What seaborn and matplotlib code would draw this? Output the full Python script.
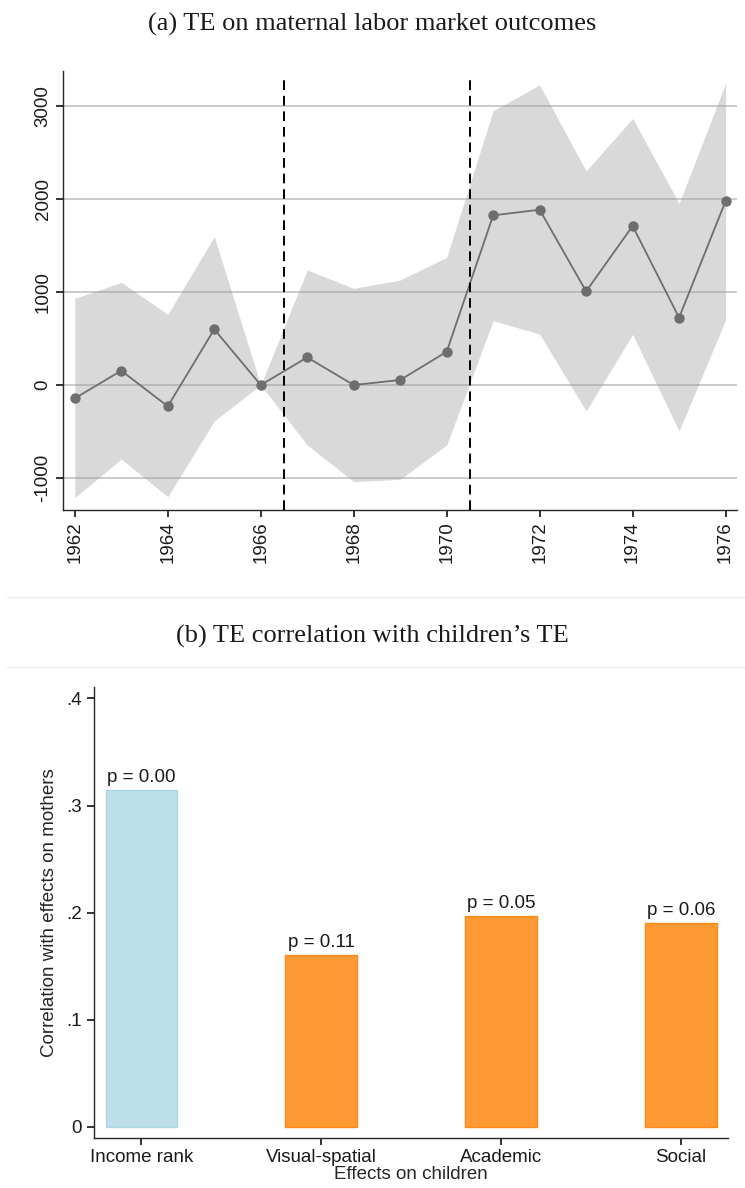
import numpy as np
import pandas as pd
import matplotlib
matplotlib.use("Agg")
import matplotlib.pyplot as plt
from matplotlib.lines import Line2D
import seaborn as sns

# ---- Panel (a): treatment effects by birth cohort ----
years = [1962, 1963, 1964, 1965, 1966, 1967, 1968, 1969, 1970,
         1971, 1972, 1973, 1974, 1975, 1976]
effect = [-143, 154, -229, 599, 0, 297, 0, 54, 358,
          1824, 1885, 1007, 1710, 724, 1978]
ci_upper = [932, 1104, 760, 1595, 0, 1237, 1039, 1129, 1373,
            2950, 3226, 2301, 2867, 1953, 3244]
ci_lower = [-1211, -796, -1201, -387, 0, -645, -1039, -1014, -645,
            692, 548, -280, 545, -495, 699]
reform_breaks = [1966.5, 1970.5]
year_ticks = [1962, 1964, 1966, 1968, 1970, 1972, 1974, 1976]
effect_ticks = [-1000, 0, 1000, 2000, 3000]

# ---- Panel (b): correlation with children's effects ----
outcomes = ["Income rank", "Visual-spatial", "Academic", "Social"]
correlation = [0.3146, 0.160, 0.1967, 0.190]
p_values = ["0.00", "0.11", "0.05", "0.06"]
corr_ticks = [0, 0.1, 0.2, 0.3, 0.4]
corr_tick_labels = ["0", ".1", ".2", ".3", ".4"]

sns.set_theme(style="ticks")
plt.rcParams["font.family"] = ["Liberation Sans", "DejaVu Sans"]
plt.rcParams["axes.linewidth"] = 1.0
plt.rcParams["xtick.major.size"] = 5
plt.rcParams["ytick.major.size"] = 5
plt.rcParams["text.color"] = "#1a1a1a"

FS = 13.5
fig = plt.figure(figsize=(7.45, 11.88), dpi=100)

# ================= Panel (a) =================
ax1 = fig.add_axes([0.0842, 0.5707, 0.9047, 0.3695])
df_a = pd.DataFrame({"year": years, "effect": effect,
                     "lo": ci_lower, "hi": ci_upper})

ax1.fill_between(df_a["year"], df_a["lo"], df_a["hi"],
                 color="#d9d9d9", lw=0, zorder=1)
for yv in effect_ticks:
    ax1.axhline(yv, color="#9a9a9a", lw=1.2, alpha=0.6, zorder=2)
sns.lineplot(data=df_a, x="year", y="effect", ax=ax1, color="#6e6e6e",
             lw=1.3, marker="o", markersize=7.5, markeredgewidth=0,
             markerfacecolor="#6e6e6e", zorder=4)
for xb in reform_breaks:
    ax1.axvline(xb, ymin=0, ymax=0.991, color="black", lw=1.4,
                dashes=(5, 3), zorder=5)

ax1.set_xlim(1961.74, 1976.24)
ax1.set_ylim(-1344, 3376)
ax1.set_xticks(year_ticks)
ax1.set_xticklabels([str(y) for y in year_ticks], rotation=90, fontsize=FS)
ax1.set_yticks(effect_ticks)
ax1.set_yticklabels([str(v) for v in effect_ticks], rotation=90,
                    va="center", fontsize=FS)
ax1.set_xlabel("")
ax1.set_ylabel("")
ax1.tick_params(axis="both", colors="#1a1a1a", pad=3)
sns.despine(ax=ax1)

# ================= Panel (b) =================
ax2 = fig.add_axes([0.1262, 0.0418, 0.8514, 0.3802])
df_b = pd.DataFrame({"outcome": outcomes, "corr": correlation})
fills = ["#bddfe9", "#ff9933", "#ff9933", "#ff9933"]
edges = ["#a9d8e6", "#ff8a1c", "#ff8a1c", "#ff8a1c"]
sns.barplot(data=df_b, x="outcome", y="corr", hue="outcome",
            palette=fills, width=0.40, legend=False, ax=ax2,
            saturation=1)
for patch, ec in zip(ax2.patches, edges):
    patch.set_edgecolor(ec)
    patch.set_linewidth(1.0)
for i, (v, p) in enumerate(zip(correlation, p_values)):
    ax2.annotate(f"p = {p}", xy=(i, v), xytext=(0, 3),
                 textcoords="offset points", ha="center", va="bottom",
                 fontsize=FS)

ax2.set_xlim(-0.264, 3.264)
ax2.set_ylim(-0.0108, 0.411)
ax2.set_yticks(corr_ticks)
ax2.set_yticklabels(corr_tick_labels, fontsize=FS)
ax2.tick_params(axis="x", labelsize=FS, pad=3)
ax2.tick_params(axis="both", colors="#1a1a1a")
ax2.set_xlabel("Effects on children", fontsize=FS, labelpad=0)
ax2.set_ylabel("Correlation with effects on mothers", fontsize=FS,
               labelpad=6)
sns.despine(ax=ax2)

# ---- Panel titles and separators ----
fig.text(0.5, 1 - 24 / 1188, "(a) TE on maternal labor market outcomes",
         ha="center", va="center", fontsize=19,
         family=["Liberation Serif", "DejaVu Serif"])
fig.text(0.5, 1 - 636 / 1188, "(b) TE correlation with children\u2019s TE",
         ha="center", va="center", fontsize=19,
         family=["Liberation Serif", "DejaVu Serif"])
for yy in (597, 667):
    fig.add_artist(Line2D([7 / 745, 1.0], [1 - yy / 1188, 1 - yy / 1188],
                          transform=fig.transFigure, color="#e6eef0",
                          lw=1.0))

fig.savefig("out.png", dpi=100)
